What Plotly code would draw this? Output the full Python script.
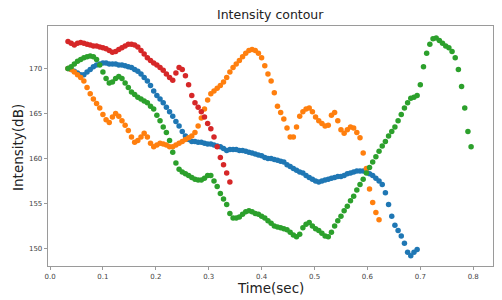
import plotly.graph_objects as go

# Sample times (sec) of the contour frames
times = [0.034, 0.040, 0.046, 0.052, 0.058, 0.064, 0.070, 0.076, 0.082, 0.088,
         0.094, 0.100, 0.106, 0.112, 0.118, 0.124, 0.130, 0.136, 0.142, 0.148,
         0.154, 0.160, 0.166, 0.172, 0.178, 0.184, 0.190, 0.196, 0.202, 0.208,
         0.214, 0.220, 0.226, 0.232, 0.238, 0.244, 0.250, 0.256, 0.262, 0.268,
         0.274, 0.280, 0.286, 0.292, 0.298, 0.304, 0.310, 0.316, 0.322, 0.328,
         0.334, 0.340, 0.346, 0.352, 0.358, 0.364, 0.370, 0.376, 0.382, 0.388,
         0.394, 0.400, 0.406, 0.412, 0.418, 0.424, 0.430, 0.436, 0.442, 0.448,
         0.454, 0.460, 0.466, 0.472, 0.478, 0.484, 0.490, 0.496, 0.502, 0.508,
         0.514, 0.520, 0.526, 0.532, 0.538, 0.544, 0.550, 0.556, 0.562, 0.568,
         0.574, 0.580, 0.586, 0.592, 0.598, 0.604, 0.610, 0.616, 0.622, 0.628,
         0.634, 0.640, 0.646, 0.652, 0.658, 0.664, 0.670, 0.676, 0.682, 0.688,
         0.694, 0.700, 0.706, 0.712, 0.718, 0.724, 0.730, 0.736, 0.742, 0.748,
         0.754, 0.760, 0.766, 0.772, 0.778, 0.784, 0.790, 0.796]

blue_db = [170.0, 169.9, 169.7, 169.5, 169.3, 169.3, 169.6, 169.9, 170.2, 170.4,
           170.5, 170.6, 170.6, 170.5, 170.5, 170.5, 170.4, 170.4, 170.3, 170.2,
           170.1, 169.9, 169.7, 169.4, 169.0, 168.6, 168.1, 167.5, 167.0, 166.6,
           166.2, 165.7, 165.2, 164.7, 164.1, 163.6, 163.0, 162.5, 162.1, 161.9,
           161.9, 161.8, 161.8, 161.7, 161.6, 161.6, 161.5, 161.4, 161.3, 161.1,
           160.9, 161.0, 161.0, 161.0, 160.9, 160.9, 160.8, 160.7, 160.6, 160.5,
           160.4, 160.3, 160.1, 160.0, 160.0, 159.9, 159.8, 159.7, 159.6, 159.3,
           159.1, 158.9, 158.7, 158.5, 158.4, 158.1, 157.9, 157.7, 157.5, 157.4,
           157.5, 157.6, 157.7, 157.8, 157.9, 158.0, 158.0, 158.1, 158.3, 158.4,
           158.5, 158.6, 158.6, 158.6, 158.5, 158.3, 158.1, 157.8, 157.5, 157.1,
           156.2, 154.9, 153.6, 152.6, 152.0, 151.4, 150.6, 149.6, 149.2, 149.6,
           149.9]

orange_db = [170.0, 169.9, 169.6, 169.3, 169.0, 168.6, 167.9, 167.2, 166.6, 166.1,
             165.6, 164.9, 164.3, 164.0, 164.6, 165.0, 164.7, 164.2, 163.7, 163.1,
             162.4, 161.8, 162.0, 162.4, 162.8, 162.4, 161.7, 161.3, 161.5, 161.7,
             161.6, 161.5, 161.3, 161.3, 161.5, 161.7, 161.9, 162.1, 162.3, 162.5,
             162.9, 163.6, 164.5, 165.5, 166.5, 167.2, 167.5, 167.8, 168.1, 168.5,
             169.0, 169.6, 170.1, 170.5, 170.9, 171.3, 171.7, 172.0, 172.1, 172.0,
             171.7, 171.2, 170.3, 169.4, 168.6, 167.3, 165.8, 165.1, 164.4, 163.4,
             162.4, 162.4, 163.5, 164.7, 165.2, 165.5, 165.6, 165.2, 164.6, 164.2,
             163.9, 163.6, 163.7, 164.8, 165.1, 164.2, 163.2, 162.8, 163.2, 163.5,
             163.4, 162.9, 162.3, 160.6, 158.9, 156.6, 155.1, 154.0, 153.2]

green_db = [170.0, 170.2, 170.5, 170.8, 171.0, 171.2, 171.3, 171.4, 171.3, 171.0,
            170.4, 169.6, 168.9, 168.4, 168.5, 168.9, 169.1, 168.9, 168.4, 167.9,
            167.4, 167.1, 166.8, 166.6, 166.4, 166.2, 165.8, 165.5, 164.8, 164.2,
            163.5, 162.9, 162.0, 160.7, 159.5, 158.8, 158.5, 158.3, 158.1, 157.9,
            157.7, 157.6, 157.6, 157.8, 158.1, 158.1, 157.5, 156.9, 156.1, 155.5,
            154.9, 153.9, 153.4, 153.4, 153.5, 153.8, 154.1, 154.2, 154.1, 153.9,
            153.8, 153.6, 153.4, 153.1, 152.8, 152.5, 152.4, 152.3, 152.2, 152.1,
            151.8, 151.5, 151.3, 151.6, 152.3, 152.7, 152.9, 152.5, 152.2, 152.0,
            151.7, 151.4, 151.3, 151.8, 152.5, 153.1, 153.6, 154.2, 154.7, 155.3,
            155.8, 156.5, 157.1, 157.7, 158.4, 159.0, 159.6, 160.2, 160.8, 161.4,
            161.9, 162.5, 163.0, 163.5, 164.2, 164.9, 165.6, 166.2, 166.7, 166.8,
            167.0, 168.2, 170.2, 171.7, 172.7, 173.3, 173.4, 173.1, 172.8, 172.5,
            172.3, 171.9, 171.2, 169.9, 168.0, 165.6, 163.0, 161.3]

red_db = [173.0, 172.8, 172.6, 172.8, 172.9, 172.8, 172.7, 172.6, 172.5, 172.5,
          172.4, 172.3, 172.2, 172.0, 171.8, 171.9, 172.1, 172.3, 172.5, 172.7,
          172.7, 172.6, 172.4, 172.0, 171.6, 171.2, 170.9, 170.6, 170.4, 170.1,
          169.8, 169.4, 169.0, 168.7, 169.5, 170.1, 169.9, 169.2, 168.2, 167.0,
          166.2, 165.7, 165.2, 164.6, 163.9, 163.3, 162.4, 161.3, 160.1, 159.3,
          158.4, 157.4]

x_ticks = [0.0, 0.1, 0.2, 0.3, 0.4, 0.5, 0.6, 0.7, 0.8]
x_tick_labels = ["0.0", "0.1", "0.2", "0.3", "0.4", "0.5", "0.6", "0.7", "0.8"]
y_ticks = [150, 155, 160, 165, 170]
y_tick_labels = ["150", "155", "160", "165", "170"]

series = [
    ("blue", blue_db, "#1f77b4"),
    ("orange", orange_db, "#ff7f0e"),
    ("green", green_db, "#2ca02c"),
    ("red", red_db, "#d62728"),
]

FONT = "DejaVu Sans"

fig = go.Figure()
for name, vals, col in series:
    fig.add_trace(go.Scatter(
        x=times[:len(vals)], y=vals, mode="markers", name=name,
        marker=dict(size=5.5, color=col, line=dict(width=0)),
        showlegend=False,
    ))

axis_common = dict(
    showgrid=False, zeroline=False, showline=True, linecolor="#9a9a9a",
    linewidth=1.3, mirror=True, ticks="outside", ticklen=3, tickwidth=1,
    tickcolor="#9a9a9a", tickfont=dict(family=FONT, size=7, color="#444"),
)

fig.update_layout(
    width=502, height=300,
    margin=dict(l=48, r=9, t=26, b=34),
    paper_bgcolor="white", plot_bgcolor="white",
    hovermode=False,
    xaxis=dict(range=[-0.0038, 0.8374], tickvals=x_ticks, ticktext=x_tick_labels,
               **axis_common),
    yaxis=dict(range=[148.06, 174.72], tickvals=y_ticks, ticktext=y_tick_labels,
               **axis_common),
    annotations=[
        dict(text="Intensity contour", xref="paper", yref="paper", x=0.499, y=1.046,
             xanchor="center", yanchor="middle", showarrow=False,
             font=dict(family=FONT, size=12.5, color="#222")),
        dict(text="Time(sec)", xref="paper", yref="paper", x=0.499, y=-0.092,
             xanchor="center", yanchor="middle", showarrow=False,
             font=dict(family=FONT, size=13.5, color="#222")),
        dict(text="Intensity(dB)", xref="paper", yref="paper", x=-0.0674, y=0.492,
             xanchor="center", yanchor="middle", showarrow=False, textangle=-90,
             font=dict(family=FONT, size=13.5, color="#222")),
    ],
)

fig.write_html("out.html",
               config={"displayModeBar": False, "staticPlot": True},
               post_script="document.body.style.margin='0';document.body.style.overflow='hidden';")
